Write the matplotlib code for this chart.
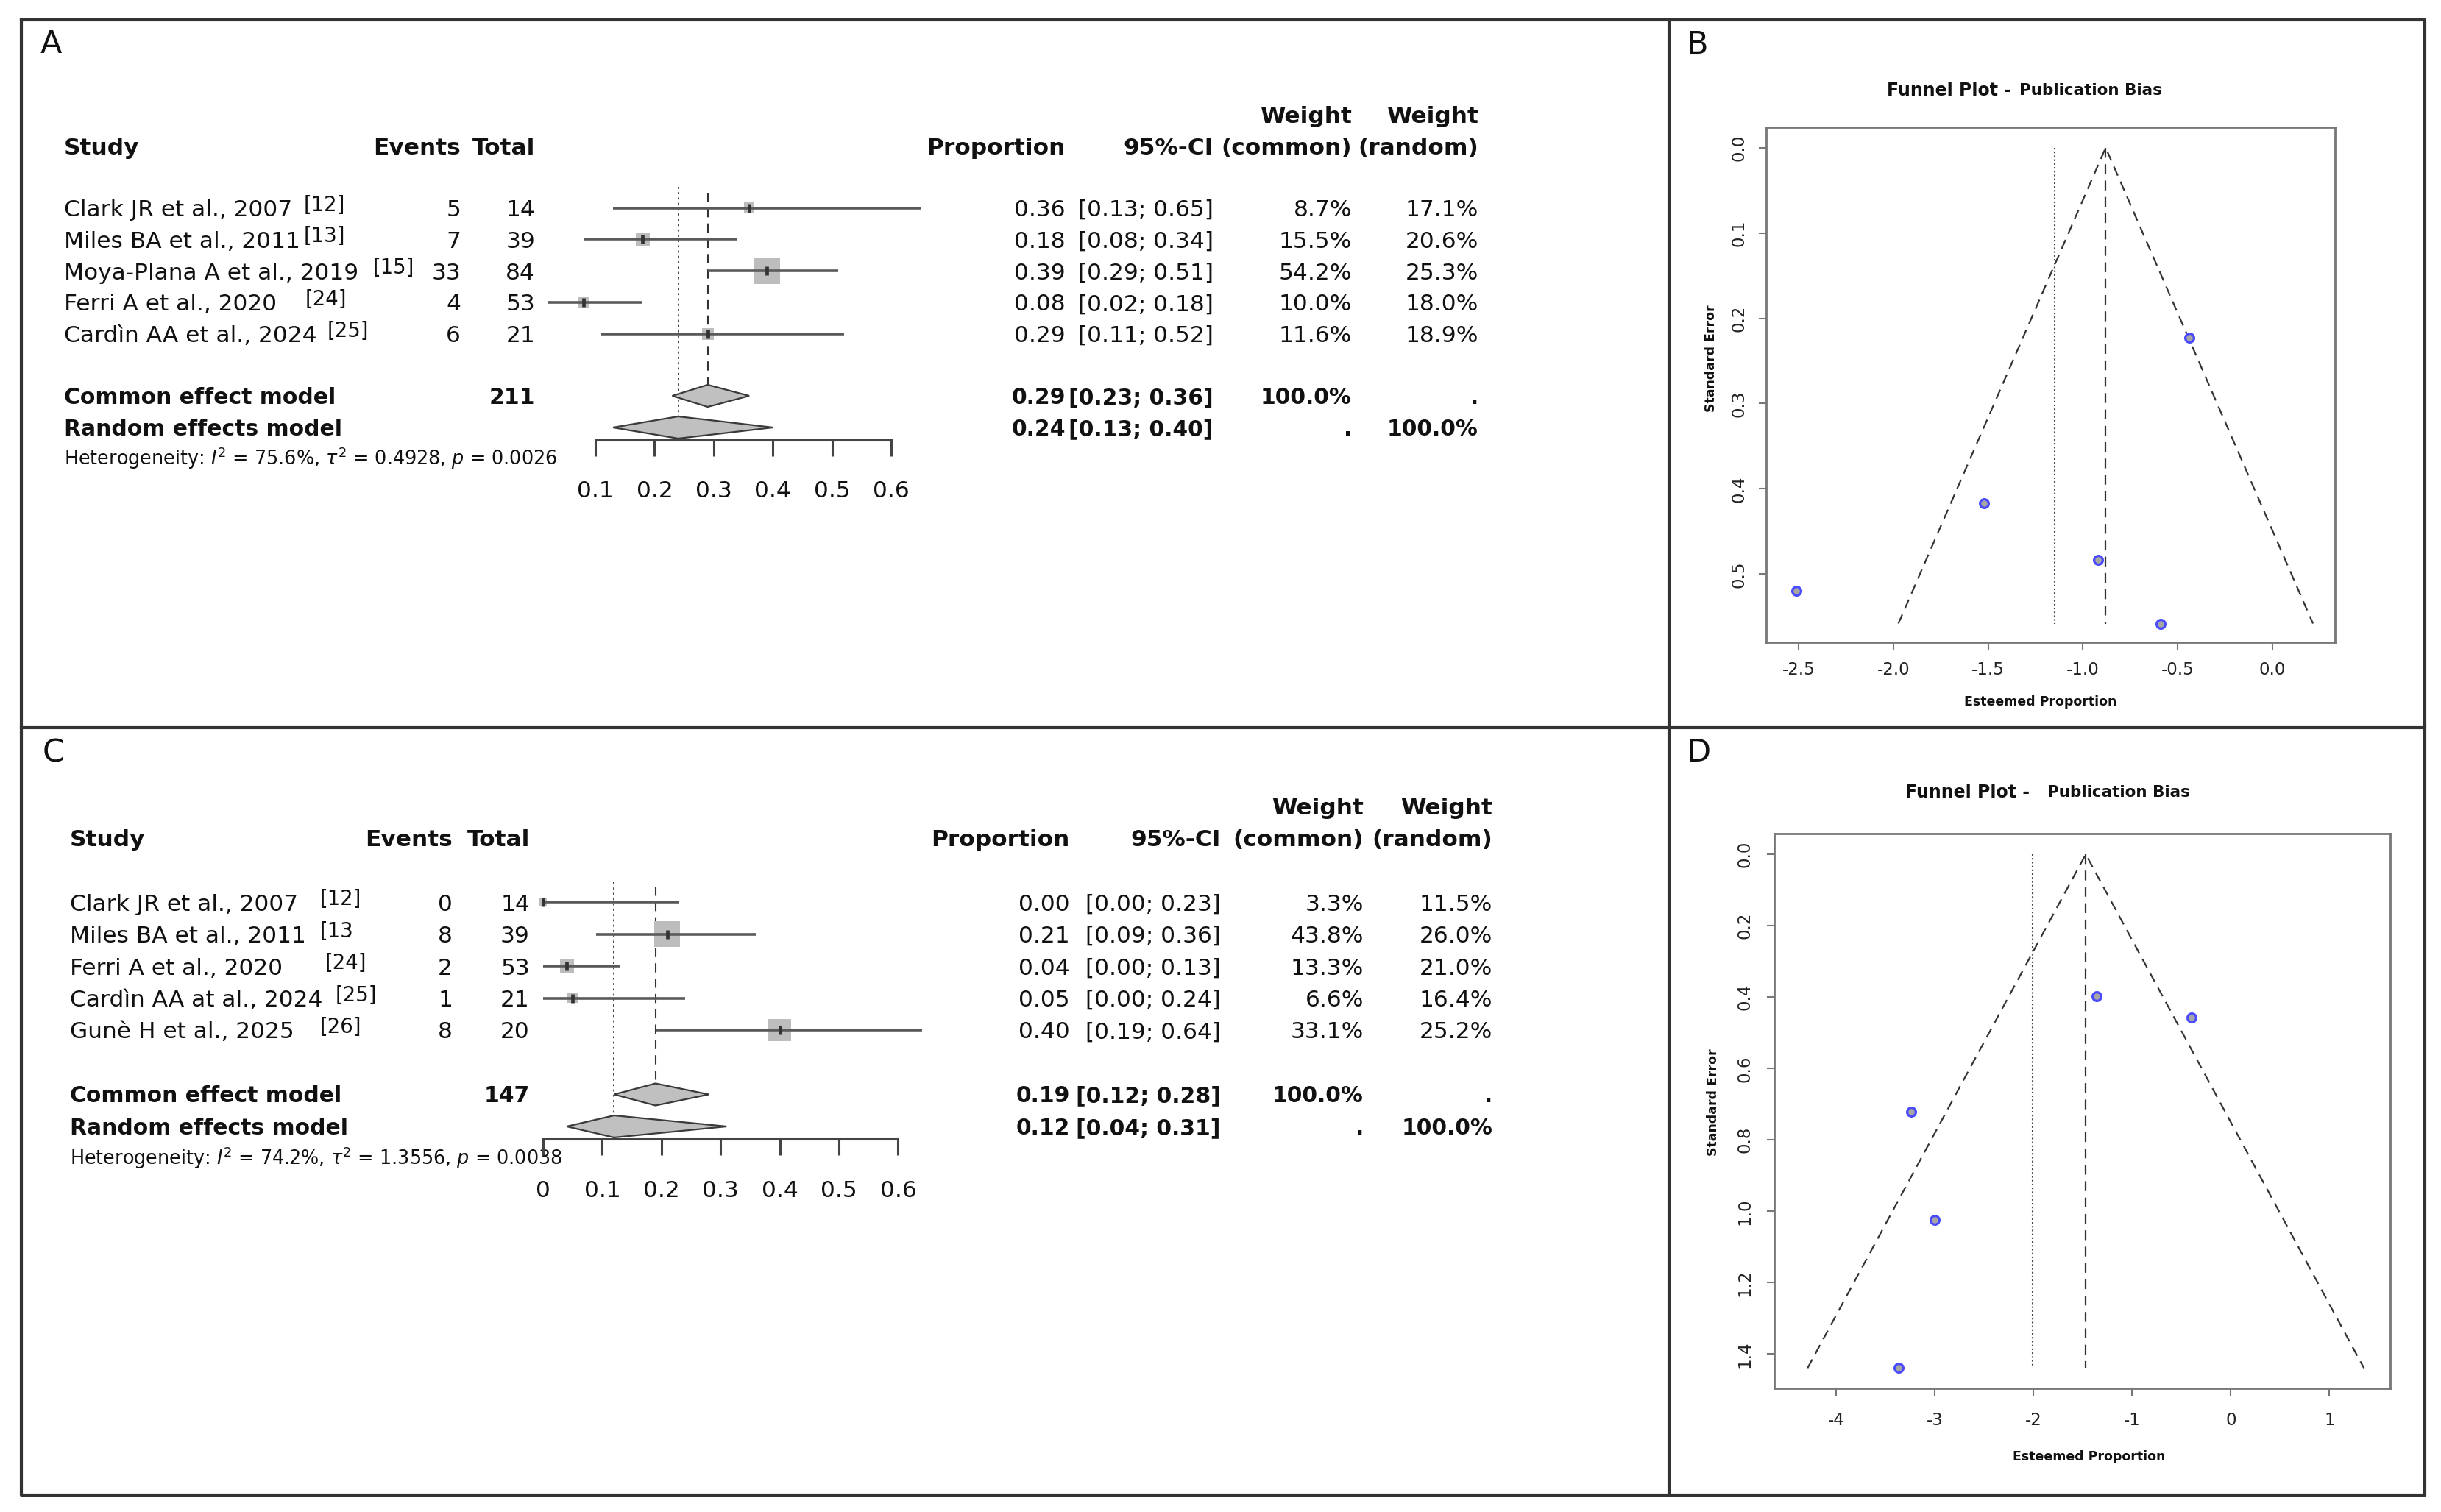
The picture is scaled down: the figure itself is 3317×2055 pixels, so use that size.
import numpy as np
import matplotlib
matplotlib.use("Agg")
import matplotlib.pyplot as plt
from matplotlib.patches import Polygon

plt.rcParams["axes.unicode_minus"] = False
plt.rcParams["mathtext.fontset"] = "dejavusans"

W, H = 3317, 2055
DPI = 100

# ---- panel A data (forest) ----
studies_a = ["Clark JR et al., 2007", "Miles BA et al., 2011", "Moya-Plana A et al., 2019",
             "Ferri A et al., 2020", "Cardìn AA et al., 2024"]
refs_a = ["[12]", "[13]", "[15]", "[24]", "[25]"]
events_a = [5, 7, 33, 4, 6]
total_a = [14, 39, 84, 53, 21]
prop_a = [0.36, 0.18, 0.39, 0.08, 0.29]
lo_a = [0.13, 0.08, 0.29, 0.02, 0.11]
hi_a = [0.65, 0.34, 0.51, 0.18, 0.52]
wcom_a = [8.7, 15.5, 54.2, 10.0, 11.6]
wran_a = [17.1, 20.6, 25.3, 18.0, 18.9]
common_a = [0.29, 0.23, 0.36]
random_a = [0.24, 0.13, 0.40]
n_a = 211
het_a = ["75.6%", "0.4928", "0.0026"]
ticks_a = [0.1, 0.2, 0.3, 0.4, 0.5, 0.6]
ticklabels_a = ["0.1", "0.2", "0.3", "0.4", "0.5", "0.6"]

# ---- panel C data (forest) ----
studies_c = ["Clark JR et al., 2007", "Miles BA et al., 2011", "Ferri A et al., 2020",
             "Cardìn AA at al., 2024", "Gunè H et al., 2025"]
refs_c = ["[12]", "[13", "[24]", "[25]", "[26]"]
events_c = [0, 8, 2, 1, 8]
total_c = [14, 39, 53, 21, 20]
prop_c = [0.00, 0.21, 0.04, 0.05, 0.40]
lo_c = [0.00, 0.09, 0.00, 0.00, 0.19]
hi_c = [0.23, 0.36, 0.13, 0.24, 0.64]
wcom_c = [3.3, 43.8, 13.3, 6.6, 33.1]
wran_c = [11.5, 26.0, 21.0, 16.4, 25.2]
common_c = [0.19, 0.12, 0.28]
random_c = [0.12, 0.04, 0.31]
n_c = 147
het_c = ["74.2%", "1.3556", "0.0038"]
ticks_c = [0, 0.1, 0.2, 0.3, 0.4, 0.5, 0.6]
ticklabels_c = ["0", "0.1", "0.2", "0.3", "0.4", "0.5", "0.6"]

# ---- panel B / D data (funnel, logit scale) ----
est_b = [-0.59, -1.52, -0.44, -2.51, -0.92]
se_b = [0.558, 0.417, 0.223, 0.520, 0.483]
pooled_b = [-0.88, -1.15]          # common, random
xticks_b = [-2.5, -2.0, -1.5, -1.0, -0.5, 0.0]
yticks_b = [0.0, 0.1, 0.2, 0.3, 0.4, 0.5]

est_d = [-3.37, -1.36, -3.24, -3.00, -0.40]
se_d = [1.439, 0.398, 0.722, 1.025, 0.458]
pooled_d = [-1.47, -2.01]
xticks_d = [-4, -3, -2, -1, 0, 1]
yticks_d = [0.0, 0.2, 0.4, 0.6, 0.8, 1.0, 1.2, 1.4]

FS = 22.5
FSB = 21.5   # bold rows
INK = "#111111"

fig = plt.figure(figsize=(W / DPI, H / DPI), dpi=DPI)
canvas = fig.add_axes([0, 0, 1, 1])
canvas.set_xlim(0, W)
canvas.set_ylim(H, 0)
canvas.axis("off")


def put(x, y, s, ha="left", bold=False, size=None, **kw):
    # y is the vertical middle of the capitals
    if size is None:
        size = FSB if bold else FS
    cap = 0.73 * size / 72 * DPI
    canvas.text(x, y + cap / 2, s, ha=ha, va="baseline", fontsize=size,
                fontweight="bold" if bold else "normal", color=INK, **kw)


# frame and dividers
canvas.plot([29, 3295, 3295, 29, 29], [27, 27, 2032, 2032, 27], color="#333333", lw=3)
canvas.plot([2268, 2268], [27, 2032], color="#333333", lw=3)
canvas.plot([29, 3295], [989, 989], color="#333333", lw=3)
for lab, x, y in [("A", 69, 56), ("B", 2307, 57), ("C", 73, 1020), ("D", 2308, 1019)]:
    put(x, y, lab, ha="center", size=31)


def forest(lay, names, refs, events, totals, prop, lo, hi, wcom, wran,
           pc, pr, ntot, het, ticks, ticklabels):
    rows = lay["row0"] + lay["dy"] * np.arange(len(names))
    hy, hy2 = lay["hdr"], lay["hdr2"]
    put(lay["name_x"], hy, "Study", bold=True, size=FS)
    put(lay["ev_r"], hy, "Events", ha="right", bold=True, size=FS)
    put(lay["tot_r"], hy, "Total", ha="right", bold=True, size=FS)
    put(lay["prop_r"], hy, "Proportion", ha="right", bold=True, size=FS)
    put(lay["ci_r"], hy, "95%-CI", ha="right", bold=True, size=FS)
    put(lay["wc_r"], hy2, "Weight", ha="right", bold=True, size=FS)
    put(lay["wc_r"], hy, "(common)", ha="right", bold=True, size=FS)
    put(lay["wr_r"], hy2, "Weight", ha="right", bold=True, size=FS)
    put(lay["wr_r"], hy, "(random)", ha="right", bold=True, size=FS)

    for i, y in enumerate(rows):
        put(lay["name_x"], y, names[i])
        put(lay["ref_x"][i], y - 6, refs[i], size=FS * 0.88)
        put(lay["ev_r"], y, str(events[i]), ha="right")
        put(lay["tot_r"], y, str(totals[i]), ha="right")
        put(lay["prop_r"], y, f"{prop[i]:.2f}", ha="right")
        put(lay["ci_r"], y, f"[{lo[i]:.2f}; {hi[i]:.2f}]", ha="right")
        put(lay["wc_r"], y, f"{wcom[i]:.1f}%", ha="right")
        put(lay["wr_r"], y, f"{wran[i]:.1f}%", ha="right")

    yc, yr = lay["common"], lay["random"]
    put(lay["name_x"], yc, "Common effect model", bold=True)
    put(lay["tot_r"], yc, str(ntot), ha="right", bold=True)
    put(lay["prop_r"], yc, f"{pc[0]:.2f}", ha="right", bold=True)
    put(lay["ci_r"], yc, f"[{pc[1]:.2f}; {pc[2]:.2f}]", ha="right", bold=True)
    put(lay["wc_r"], yc, "100.0%", ha="right", bold=True)
    put(lay["wr_r"], yc, ".", ha="right", bold=True)
    put(lay["name_x"], yr, "Random effects model", bold=True)
    put(lay["prop_r"], yr, f"{pr[0]:.2f}", ha="right", bold=True)
    put(lay["ci_r"], yr, f"[{pr[1]:.2f}; {pr[2]:.2f}]", ha="right", bold=True)
    put(lay["wc_r"], yr, ".", ha="right", bold=True)
    put(lay["wr_r"], yr, "100.0%", ha="right", bold=True)
    put(lay["name_x"], lay["het"],
        rf"Heterogeneity: $I^2$ = {het[0]}, $\tau^2$ = {het[1]}, $p$ = {het[2]}", size=18.4)

    # graphical part on a proportion scale
    ax = fig.add_axes([700 / W, 0, 600 / W, 1])
    ax.set_xlim((700 - lay["x0"]) / lay["scale"], (1300 - lay["x0"]) / lay["scale"])
    ax.set_ylim(H, 0)
    ax.axis("off")

    side = 35 * np.sqrt(np.array(wcom) / max(wcom))
    ax.scatter(prop, rows, s=(side * 0.72) ** 2, marker="s", color="#bdbdbd", lw=0, zorder=2)
    ax.hlines(rows, lo, hi, color="#5a5a5a", lw=2.6, zorder=3)
    ax.scatter(prop, rows, marker="|", s=(12 * 0.72) ** 2, color="#333333", linewidths=3.4, zorder=4)

    h = 15
    for (e, l, u), y in [(pc, yc), (pr, yr)]:
        ax.add_patch(Polygon([(l, y), (e, y - h), (u, y), (e, y + h)], closed=True,
                             fc="#c0c0c0", ec="#3a3a3a", lw=1.6, zorder=3))
    ax.vlines(pc[0], lay["dash_top"], yc - h, color="#333333", lw=1.5, ls=(0, (6, 4)), zorder=1)
    ax.vlines(pr[0], lay["dot_top"], yr - h, color="#333333", lw=1.3, ls=(0, (1.5, 2.5)), zorder=1)

    ya = lay["axis"]
    ax.plot([ticks[0], ticks[-1]], [ya, ya], color="#444444", lw=2.2)
    ax.vlines(ticks, ya, ya + 22, color="#444444", lw=2.2)
    cap = 0.73 * FS / 72 * DPI
    for t, s in zip(ticks, ticklabels):
        ax.text(t, lay["ticklab"] + cap / 2, s, ha="center", va="baseline", fontsize=FS, color=INK)


lay_a = dict(name_x=87, ref_x=[413, 413, 507, 415, 445], ev_r=626, tot_r=727,
             prop_r=1448, ci_r=1649, wc_r=1837, wr_r=2009,
             row0=282.5, dy=42.8, hdr=199, hdr2=156, common=538, random=581, het=623,
             axis=598, ticklab=665, dash_top=262, dot_top=254, x0=728.6, scale=804)
lay_c = dict(name_x=95, ref_x=[435, 435, 442, 456, 435], ev_r=615, tot_r=720,
             prop_r=1454, ci_r=1659, wc_r=1853, wr_r=2028,
             row0=1226.3, dy=43.4, hdr=1139, hdr2=1096, common=1487.5, random=1531, het=1574,
             axis=1548, ticklab=1616, dash_top=1205, dot_top=1199, x0=738, scale=804)

forest(lay_a, studies_a, refs_a, events_a, total_a, prop_a, lo_a, hi_a, wcom_a, wran_a,
       common_a, random_a, n_a, het_a, ticks_a, ticklabels_a)
forest(lay_c, studies_c, refs_c, events_c, total_c, prop_c, lo_c, hi_c, wcom_c, wran_c,
       common_c, random_c, n_c, het_c, ticks_c, ticklabels_c)


def funnel(lay, est, se, pooled, xticks, xfmt, yticks):
    l, t, r, b = lay["box"]
    ax = fig.add_axes([l / W, 1 - b / H, (r - l) / W, (b - t) / H])
    ax.set_xlim(lay["xlim"])
    ax.set_ylim(lay["ylim"])
    smax = max(se)
    pc, pr = pooled
    ax.plot([pc - 1.96 * smax, pc, pc + 1.96 * smax], [smax, 0, smax],
            color="#333333", lw=1.6, ls=(0, (6, 4)))
    ax.vlines(pc, 0, smax, color="#333333", lw=1.6, ls=(0, (6, 4)))
    ax.vlines(pr, 0, smax, color="#444444", lw=1.5, ls=(0, (1, 1.5)))
    ax.plot(est, se, "o", ms=8.5, mec="#4a4aff", mfc="#a5a5a5", mew=2.3, ls="none")
    for sp in ax.spines.values():
        sp.set_color("#777777")
        sp.set_linewidth(2)
    ax.set_xticks(xticks)
    ax.set_xticklabels([xfmt.format(v) for v in xticks])
    ax.set_yticks(yticks)
    ax.set_yticklabels([f"{v:.1f}" for v in yticks], rotation=90, va="center")
    ax.tick_params(axis="x", length=7, width=1.5, color="#777777", labelsize=16.5,
                   labelcolor="#222222", pad=lay["xpad"])
    ax.tick_params(axis="y", length=7, width=1.5, color="#777777", labelsize=16.5,
                   labelcolor="#222222", pad=lay["ypad"])
    tx, ty = lay["title"]
    put(tx[0], ty, "Funnel Plot -", bold=True, size=17)
    put(tx[1], ty, "Publication Bias", bold=True, size=15.5)
    xl = lay["xlab"]
    canvas.text(xl[0], xl[1], "Esteemed Proportion", ha="center", va="center",
                fontsize=12.5, fontweight="bold", color=INK)
    yl = lay["ylab"]
    canvas.text(yl[0], yl[1], "Standard Error", ha="center", va="center", rotation=90,
                fontsize=12.5, fontweight="bold", color=INK)


lay_b = dict(box=(2400, 173, 3173, 873), xlim=(-2.671, 0.33), ylim=(0.580, -0.024),
             xpad=12, ypad=11.5, title=((2564, 2744), 121), xlab=(2773, 954), ylab=(2325, 487))
lay_d = dict(box=(2411, 1133, 3248, 1886.5), xlim=(-4.628, 1.617), ylim=(1.495, -0.058),
             xpad=16.5, ypad=13.5, title=((2589, 2782), 1075), xlab=(2839, 1980), ylab=(2328, 1498))

funnel(lay_b, est_b, se_b, pooled_b, xticks_b, "{:.1f}", yticks_b)
funnel(lay_d, est_d, se_d, pooled_d, xticks_d, "{:d}", yticks_d)

fig.savefig("out.png", dpi=DPI, facecolor="white")
